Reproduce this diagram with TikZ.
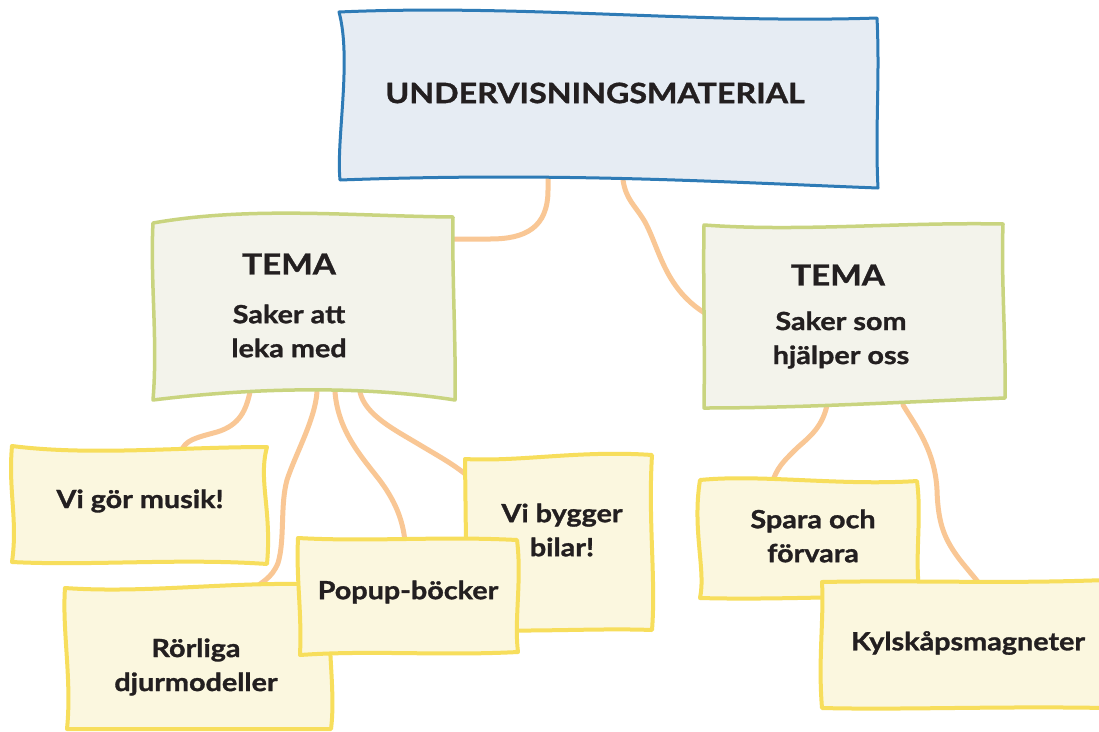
\documentclass[tikz,border=0pt]{standalone}
\usepackage{fontspec}
\setmainfont{Lato}[FakeStretch=1.15,BoldFeatures={FakeBold=1.2}]
\definecolor{topfill}{HTML}{E6ECF3}
\definecolor{topline}{HTML}{2E7BB6}
\definecolor{temafill}{HTML}{F3F3EB}
\definecolor{temaline}{HTML}{C9D47F}
\definecolor{leaffill}{HTML}{FBF7DF}
\definecolor{leafline}{HTML}{F7DE5C}
\definecolor{conn}{HTML}{F9C795}
\definecolor{txt}{HTML}{231F20}
\begin{document}
\begin{tikzpicture}[x=1pt,y=-1pt,
 topbox/.style={fill=topfill,draw=topline,line width=3pt,line join=round},
 temabox/.style={fill=temafill,draw=temaline,line width=3.5pt,line join=round},
 leafbox/.style={fill=leaffill,draw=leafline,line width=4pt,line join=round},
 link/.style={draw=conn,line width=5pt,line cap=round},
 lbl/.style={text=txt,font=\bfseries\fontsize{25}{34}\selectfont,align=center,inner sep=0pt},
 ttl/.style={text=txt,font=\bfseries\fontsize{28}{34}\selectfont,inner sep=0pt},
 tema/.style={text=txt,font=\bfseries\fontsize{29}{34}\selectfont,inner sep=0pt}]
\useasboundingbox (0,0) rectangle (1099,731);
\fill[white] (0,0) rectangle (1099,731);

% connector end points
\coordinate (c1a) at (548,176);  \coordinate (c1b) at (450,239);
\coordinate (c2a) at (623,180);  \coordinate (c2b) at (708,315);
\coordinate (c3a) at (250,392);  \coordinate (c3b) at (181,452);
\coordinate (c4a) at (317,392);  \coordinate (c4b) at (252,590);
\coordinate (c5a) at (335,392);  \coordinate (c5b) at (405,542);
\coordinate (c6a) at (360,392);  \coordinate (c6b) at (470,478);
\coordinate (c7a) at (827,405);  \coordinate (c7b) at (772,484);
\coordinate (c8a) at (903,405);  \coordinate (c8b) at (982,587);

% connectors
\draw[link] (c1a) -- (548,190) .. controls (548,228) and (525,239) .. (490,239) -- (c1b);
\draw[link] (c2a) .. controls (626,200) and (635,205) .. (645,222) .. controls (660,250) and (665,290) .. (c2b);
\draw[link] (c3a) .. controls (246,410) and (240,425) .. (217,432) .. controls (195,438) and (185,440) .. (c3b);
\draw[link] (c4a) .. controls (315,420) and (295,455) .. (287,480) .. controls (280,505) and (285,540) .. (278,563) .. controls (272,578) and (262,582) .. (c4b);
\draw[link] (c5a) .. controls (338,430) and (360,455) .. (378,478) .. controls (395,500) and (403,520) .. (c5b);
\draw[link] (c6a) .. controls (365,415) and (395,430) .. (420,445) .. controls (440,457) and (455,465) .. (c6b);
\draw[link] (c7a) .. controls (822,430) and (805,440) .. (795,450) .. controls (785,460) and (776,468) .. (c7b);
\draw[link] (c8a) .. controls (915,425) and (935,450) .. (937,490) .. controls (938,525) and (945,540) .. (960,560) .. controls (968,570) and (975,578) .. (c8b);

% top box
\draw[topbox] (339,12) .. controls (520,4) and (700,24) .. (877,18)
  .. controls (880,80) and (875,130) .. (878,188)
  .. controls (720,182) and (560,172) .. (340,180)
  .. controls (336,140) and (352,60) .. cycle;
\node[ttl] (title) at (595,93) {UNDERVISNINGSMATERIAL};

% left TEMA
\draw[temabox] (153,223) .. controls (250,206) and (350,216) .. (453,217)
  .. controls (452,280) and (456,340) .. (455,400)
  .. controls (360,385) and (250,388) .. (153,400)
  .. controls (158,340) and (150,280) .. cycle;
\node[tema] (temaL) at (289,264) {TEMA};
\node[lbl] (sakerL) at (289,331) {Saker att\\leka med};

% right TEMA
\draw[temabox] (704,225) .. controls (800,232) and (900,222) .. (1003,224)
  .. controls (1001,280) and (1006,340) .. (1005,398)
  .. controls (900,402) and (800,408) .. (704,408)
  .. controls (705,340) and (703,280) .. cycle;
\node[tema] (temaR) at (838,275) {TEMA};
\node[lbl] (sakerR) at (841,340) {Saker som\\hjälper oss};

% Vi gör musik
\draw[leafbox] (12,446) .. controls (90,456) and (180,447) .. (267,447)
  .. controls (258,480) and (272,510) .. (267,564)
  .. controls (180,558) and (90,566) .. (12,562)
  .. controls (18,520) and (8,490) .. cycle;
\node[lbl] (musik) at (140,501) {Vi gör musik!};

% Rörliga djurmodeller
\draw[leafbox] (65,588) .. controls (150,594) and (240,580) .. (330,585)
  .. controls (326,640) and (336,690) .. (331,729)
  -- (67,729)
  .. controls (72,680) and (62,630) .. cycle;
\node[lbl] (rorliga) at (196,667) {Rörliga\\djurmodeller};

% Vi bygger bilar!
\draw[leafbox] (465,459) .. controls (520,462) and (580,450) .. (652,455)
  .. controls (648,520) and (656,580) .. (652,630)
  .. controls (600,628) and (540,632) .. (467,630)
  -- cycle;
\node[lbl] (bygger) at (562,530) {Vi bygger\\bilar!};

% Popup-böcker
\draw[leafbox] (298,538) .. controls (370,542) and (440,536) .. (517,540)
  .. controls (522,580) and (514,620) .. (518,652)
  .. controls (440,656) and (370,650) .. (300,655)
  .. controls (302,610) and (296,580) .. cycle;
\node[lbl] (popup) at (408,592) {Popup-böcker};

% Spara och förvara
\draw[leafbox] (700,480) .. controls (760,474) and (840,486) .. (917,481)
  .. controls (922,520) and (914,560) .. (920,596)
  .. controls (850,596) and (770,600) .. (700,598)
  .. controls (706,570) and (692,530) .. cycle;
\node[lbl] (spara) at (813,536) {Spara och\\förvara};

% Kylskåpsmagneter
\draw[leafbox] (822,582) .. controls (920,580) and (1000,584) .. (1106,580)
  -- (1106,708)
  .. controls (1000,706) and (900,710) .. (822,708)
  .. controls (818,660) and (824,620) .. cycle;
\node[lbl] (kyl) at (968,643) {Kylskåpsmagneter};
\end{tikzpicture}
\end{document}
